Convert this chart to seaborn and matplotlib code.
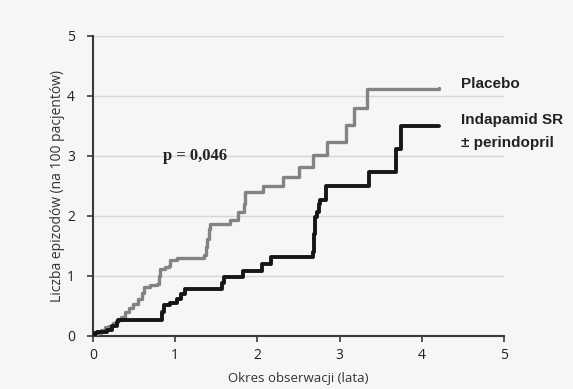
import matplotlib
matplotlib.use("Agg")
import matplotlib.pyplot as plt
import seaborn as sns
import pandas as pd

placebo_t = [0, 0.05, 0.10, 0.15, 0.20, 0.25, 0.29, 0.34, 0.39, 0.44, 0.49, 0.55, 0.60, 0.62,
             0.70, 0.78, 0.80, 0.82, 0.88, 0.92, 0.94, 1.02, 1.06, 1.35, 1.37, 1.39, 1.41, 1.43,
             1.67, 1.77, 1.84, 1.85, 2.07, 2.31, 2.50, 2.68, 2.84, 3.08, 3.17, 3.33, 4.21]
placebo_v = [0, 0.04, 0.09, 0.14, 0.17, 0.22, 0.26, 0.32, 0.39, 0.46, 0.53, 0.62, 0.72, 0.81,
             0.84, 0.87, 1.00, 1.12, 1.15, 1.17, 1.26, 1.29, 1.30, 1.35, 1.48, 1.62, 1.78, 1.86,
             1.93, 2.06, 2.20, 2.39, 2.49, 2.64, 2.81, 3.01, 3.23, 3.52, 3.80, 4.11, 4.13]

indap_t = [0, 0.03, 0.05, 0.17, 0.23, 0.29, 0.31, 0.84, 0.86, 0.94, 1.02, 1.07, 1.12, 1.57,
           1.59, 1.83, 2.06, 2.16, 2.68, 2.69, 2.70, 2.72, 2.75, 2.76, 2.83, 3.36, 3.69, 3.74, 4.21]
indap_v = [0, 0.04, 0.07, 0.10, 0.16, 0.23, 0.27, 0.40, 0.51, 0.54, 0.62, 0.70, 0.78, 0.88,
           0.98, 1.08, 1.19, 1.32, 1.40, 1.70, 1.98, 2.06, 2.20, 2.26, 2.49, 2.73, 3.12, 3.50, 3.50]

x_ticks = [0, 1, 2, 3, 4, 5]
y_ticks = [0, 1, 2, 3, 4, 5]

sns.set_style("white")
plt.rcParams['font.family'] = ['Open Sans', 'DejaVu Sans']

fig = plt.figure(figsize=(5.73, 3.89), dpi=100)
bg = "#f6f6f6"
fig.patch.set_facecolor(bg)
ax = fig.add_axes([0.162, 0.137, 0.718, 0.771])
ax.set_facecolor(bg)

df_p = pd.DataFrame({"t": placebo_t, "v": placebo_v})
df_i = pd.DataFrame({"t": indap_t, "v": indap_v})
sns.lineplot(data=df_p, x="t", y="v", ax=ax, drawstyle="steps-post", color="#838383",
             linewidth=2.4, estimator=None, sort=False, zorder=3)
sns.lineplot(data=df_i, x="t", y="v", ax=ax, drawstyle="steps-post", color="#161616",
             linewidth=2.8, estimator=None, sort=False, zorder=4)

ax.set_xlim(0, 5)
ax.set_ylim(0, 5)
ax.set_xticks(x_ticks)
ax.set_yticks(y_ticks)
ax.set_xticklabels([str(t) for t in x_ticks])
ax.set_yticklabels([str(t) for t in y_ticks])
ax.yaxis.grid(True, color="#d6d6d6", linewidth=1.0, zorder=0)
ax.xaxis.grid(False)
ax.set_axisbelow(True)
for s in ["top", "right"]:
    ax.spines[s].set_visible(False)
for s in ["left", "bottom"]:
    ax.spines[s].set_color("#3a3a3a")
    ax.spines[s].set_linewidth(1.5)
ax.tick_params(axis="both", direction="out", length=4, width=1.2, color="#3a3a3a",
               labelsize=10, labelcolor="#222222", bottom=True, left=True)
ax.tick_params(axis="x", pad=5)
ax.tick_params(axis="y", pad=9)

ax.set_xlabel("Okres obserwacji (lata)", fontsize=9.5, color="#333333", labelpad=6)
ax.set_ylabel("Liczba epizodów (na 100 pacjentów)", fontsize=10, color="#333333", labelpad=1)

ax.text(0.85, 3.0, "p = 0,046", family="Liberation Serif", fontweight="bold", fontsize=12,
        color="#222222", va="center", ha="left")
ax.text(4.47, 4.2, "Placebo", family="Liberation Sans", fontweight="bold", fontsize=11,
        color="#222222", va="center", ha="left", clip_on=False)
ax.text(4.47, 3.6, "Indapamid SR", family="Liberation Sans", fontweight="bold", fontsize=11,
        color="#222222", va="center", ha="left", clip_on=False)
ax.text(4.47, 3.22, "± perindopril", family="Liberation Sans", fontweight="bold", fontsize=11,
        color="#222222", va="center", ha="left", clip_on=False)

fig.savefig("out.png", dpi=100, facecolor=bg)
